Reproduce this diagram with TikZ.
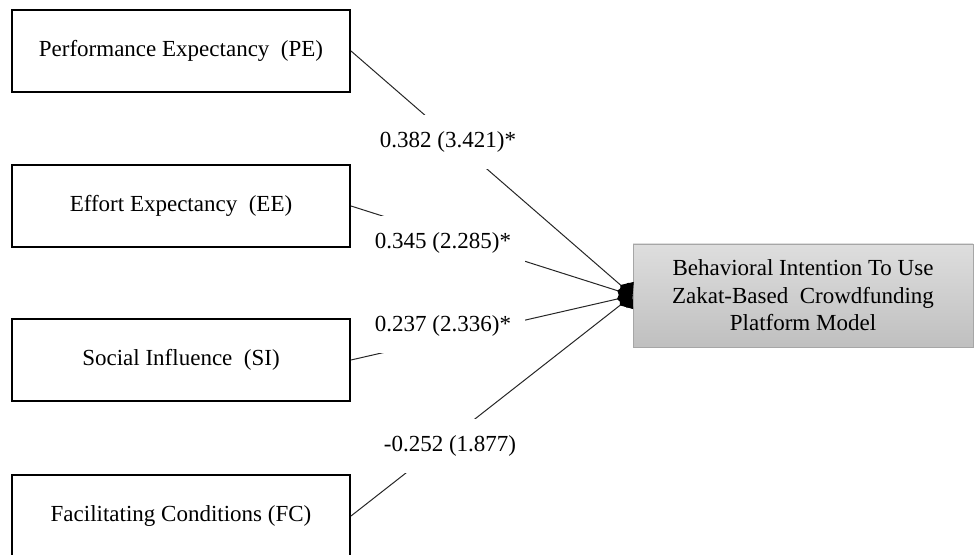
\documentclass[tikz,border=0pt]{standalone}
\usepackage{fontspec}
\setmainfont{Liberation Serif}
\usetikzlibrary{arrows.meta}

\begin{document}
\begin{tikzpicture}[x=.5pt, y=-.5pt,
  font=\fontsize{11.5}{13.75}\selectfont,
  factor/.style={draw, line width=1pt, minimum width=169pt, minimum height=41pt, inner sep=0pt},
  target/.style={draw=black!35, top color=black!13, bottom color=black!25, minimum width=170pt, minimum height=51.5pt, inner sep=0pt, align=center},
  coef/.style={fill=white, minimum width=82pt, minimum height=27pt, inner sep=0pt},
  link/.style={black!85, line width=.5pt, -{Diamond[length=8pt, width=11pt, color=black]}}]
\useasboundingbox (0,0) rectangle (974,555);

\node[target] (bi) at (803,295.5) {Behavioral Intention To Use\\Zakat-Based\enspace Crowdfunding\\Platform Model};

% the four constructs
\foreach \n/\y/\t in {pe/51/Performance Expectancy\enspace(PE), ee/206/Effort Expectancy\enspace(EE), si/360/Social Influence\enspace(SI), fc/516/Facilitating Conditions (FC)}
 \node[factor] (\n) at (181,\y) {\t};

\foreach \n in {pe,ee,si,fc}
 \draw[link] (\n.east) -- (bi.west);

% path coefficients (t-values)
\foreach \n/\x/\y/\t in {pe/448/142/0.382 (3.421)*, ee/443/243/0.345 (2.285)*, si/443/326/0.237 (2.336)*, fc/450/446/-0.252 (1.877)}
 \node[coef] (l\n) at (\x,\y) {\t};
\end{tikzpicture}
\end{document}
